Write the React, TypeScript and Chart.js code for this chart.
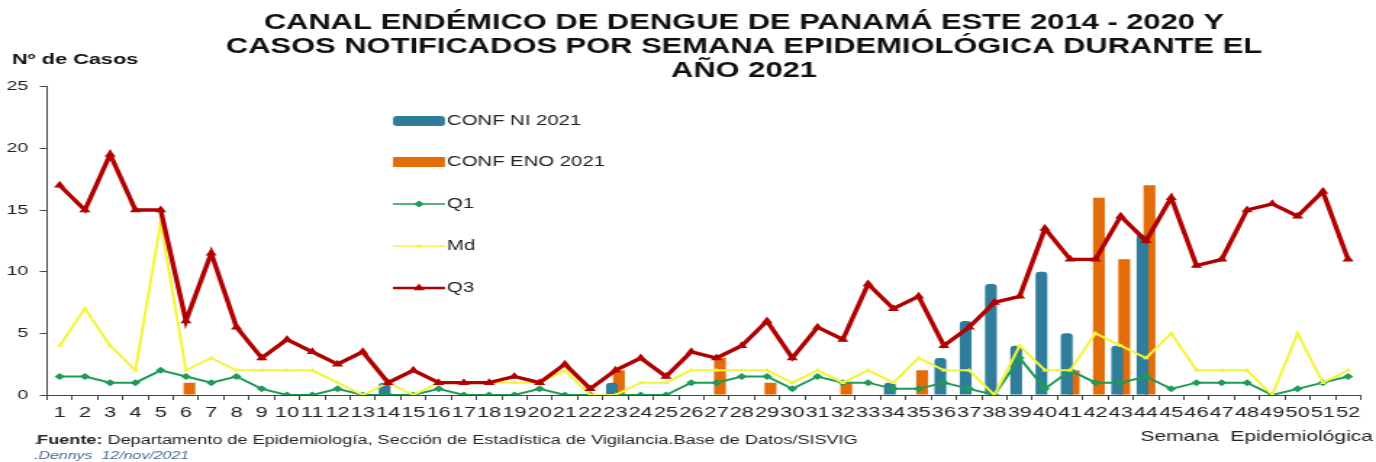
import React, { useEffect, useRef } from "react";
import { Chart, registerables } from "chart.js";

Chart.register(...registerables);

const weeks = ["1","2","3","4","5","6","7","8","9","10","11","12","13","14","15","16","17","18","19","20","21","22","23","24","25","26","27","28","29","30","31","32","33","34","35","36","37","38","39","40","41","42","43","44","45","46","47","48","49","50","51","52"];

const confNI: (number | null)[] = [null,null,null,null,null,null,null,null,null,null,null,null,null,1,null,null,null,null,null,null,null,null,1,null,null,null,null,null,null,null,null,null,null,1,null,3,6,9,4,10,5,null,4,13,null,null,null,null,null,null,null,null];
const confENO: (number | null)[] = [null,null,null,null,null,1,null,null,null,null,null,null,null,null,null,null,null,null,null,null,null,null,2,null,null,null,3,null,1,null,null,1,null,null,2,null,null,null,null,null,2,16,11,17,null,null,null,null,null,null,null,null];
const q1 = [1.5,1.5,1,1,2,1.5,1,1.5,0.5,0,0,0.5,0,0,0,0.5,0,0,0,0.5,0,0,0,0,0,1,1,1.5,1.5,0.5,1.5,1,1,0.5,0.5,1,0.5,0,3,0.5,2,1,1,1.5,0.5,1,1,1,0,0.5,1,1.5];
const md = [4,7,4,2,14,2,3,2,2,2,2,1,0,1,0,1,1,1,1,1,2,0,0,1,1,2,2,2,2,1,2,1,2,1,3,2,2,0,4,2,2,5,4,3,5,2,2,2,0,5,1,2];
const q3 = [17,15,19.5,15,15,6,11.5,5.5,3,4.5,3.5,2.5,3.5,1,2,1,1,1,1.5,1,2.5,0.5,2,3,1.5,3.5,3,4,6,3,5.5,4.5,9,7,8,4,5.5,7.5,8,13.5,11,11,14.5,12.5,16,10.5,11,15,15.5,14.5,16.5,11];
const yTicks = [0, 5, 10, 15, 20, 25];

const titleLines = [
  "CANAL ENDÉMICO DE DENGUE DE PANAMÁ ESTE 2014 - 2020 Y",
  "CASOS NOTIFICADOS POR SEMANA EPIDEMIOLÓGICA DURANTE EL",
  "AÑO 2021",
];
const legendLabels = ["CONF NI 2021", "CONF ENO 2021", "Q1", "Md", "Q3"];

const COL_NI = "#2F7D9A";
const COL_ENO = "#E36C0A";
const COL_Q1 = "#1E9B57";
const COL_MD = "#F4F43A";
const COL_Q3 = "#B00000";

const CSS_W = 1376;
const CSS_H = 462;
const CW = 949;
const S = CSS_W / CW;
const cx = (v: number) => v / S;
const FONT = '"Liberation Sans", Arial, sans-serif';

function tri(ctx: CanvasRenderingContext2D, x: number, y: number, r: number) {
  ctx.beginPath();
  ctx.moveTo(x, y - r);
  ctx.lineTo(x + r * 0.866, y + r * 0.5);
  ctx.lineTo(x - r * 0.866, y + r * 0.5);
  ctx.closePath();
  ctx.fill();
}
function diamond(ctx: CanvasRenderingContext2D, x: number, y: number, r: number) {
  ctx.beginPath();
  ctx.moveTo(x, y - r);
  ctx.lineTo(x + r, y);
  ctx.lineTo(x, y + r);
  ctx.lineTo(x - r, y);
  ctx.closePath();
  ctx.fill();
}

const decor = {
  id: "decor",
  afterDraw(chart: any) {
    const ctx: CanvasRenderingContext2D = chart.ctx;
    ctx.save();
    // title
    ctx.fillStyle = "#111";
    ctx.textAlign = "center";
    ctx.textBaseline = "middle";
    ctx.font = `bold 21.3px ${FONT}`;
    const ty = [23, 47.5, 71];
    titleLines.forEach((t, i) => ctx.fillText(t, cx(744), ty[i]));
    // y title
    ctx.textAlign = "left";
    ctx.font = `bold 15px ${FONT}`;
    ctx.fillText("Nº de Casos", cx(12), 60);
    // x title
    ctx.textAlign = "right";
    ctx.font = `14.5px ${FONT}`;
    ctx.fillStyle = "#222";
    ctx.fillText("Semana  Epidemiológica", cx(1373), 437);
    // footer
    ctx.textAlign = "left";
    ctx.font = `12.5px ${FONT}`;
    ctx.fillText(".", cx(34), 441);
    ctx.font = `bold 12.5px ${FONT}`;
    let x = cx(37);
    ctx.fillText("Fuente:", x, 441);
    x += ctx.measureText("Fuente:").width;
    ctx.font = `12.5px ${FONT}`;
    ctx.fillText(" Departamento de Epidemiología, Sección de Estadística de Vigilancia.Base de Datos/SISVIG", x, 441);
    ctx.font = `italic 11px ${FONT}`;
    ctx.fillStyle = "#4A6A90";
    ctx.fillText(".Dennys  12/nov/2021", cx(34), 456);
    // legend
    const ly = [121, 162, 204, 246, 288];
    const sx0 = cx(393), sx1 = cx(445), mid = (sx0 + sx1) / 2;
    ctx.fillStyle = COL_NI;
    ctx.beginPath();
    (ctx as any).roundRect ? (ctx as any).roundRect(sx0, ly[0] - 5, sx1 - sx0, 10, 3) : ctx.rect(sx0, ly[0] - 5, sx1 - sx0, 10);
    ctx.fill();
    ctx.fillStyle = COL_ENO;
    ctx.fillRect(sx0, ly[1] - 5, sx1 - sx0, 10);
    const lineSw = (y: number, col: string, w: number) => {
      ctx.strokeStyle = col;
      ctx.lineWidth = w;
      ctx.beginPath();
      ctx.moveTo(sx0, y);
      ctx.lineTo(sx1, y);
      ctx.stroke();
      ctx.fillStyle = col;
    };
    lineSw(ly[2], COL_Q1, 1.6);
    diamond(ctx, mid, ly[2], 3.5);
    lineSw(ly[3], COL_MD, 1.6);
    tri(ctx, mid, ly[3], 2.5);
    lineSw(ly[4], COL_Q3, 2.6);
    tri(ctx, mid, ly[4], 4.5);
    ctx.fillStyle = "#222";
    ctx.font = `14px ${FONT}`;
    ctx.textAlign = "left";
    legendLabels.forEach((t, i) => ctx.fillText(t, cx(447), ly[i]));
    ctx.restore();
  },
};

export default function App() {
  const ref = useRef<HTMLCanvasElement | null>(null);
  useEffect(() => {
    document.body.style.margin = "0";
    const canvas = ref.current!;
    const chart = new Chart(canvas, {
      type: "bar",
      data: {
        labels: weeks,
        datasets: [
          { type: "line", label: "Q3", data: q3, order: 0, borderColor: COL_Q3, backgroundColor: COL_Q3, borderWidth: 3.4, pointStyle: "triangle", pointRadius: 4.5, pointBorderWidth: 0, tension: 0 } as any,
          { type: "line", label: "Md", data: md, order: 1, borderColor: COL_MD, backgroundColor: COL_MD, borderWidth: 2, pointStyle: "triangle", pointRadius: 2.5, pointBorderWidth: 0, tension: 0 } as any,
          { type: "line", label: "Q1", data: q1, order: 2, borderColor: COL_Q1, backgroundColor: COL_Q1, borderWidth: 2, pointStyle: "rectRot", pointRadius: 3.5, pointBorderWidth: 0, tension: 0 } as any,
          { type: "bar", label: "CONF NI 2021", data: confNI, order: 3, backgroundColor: COL_NI, borderRadius: { topLeft: 3, topRight: 3, bottomLeft: 0, bottomRight: 0 }, borderSkipped: "start", categoryPercentage: 0.55, barPercentage: 1.7 } as any,
          { type: "bar", label: "CONF ENO 2021", data: confENO, order: 4, backgroundColor: COL_ENO, categoryPercentage: 0.55, barPercentage: 1.7 } as any,
        ],
      },
      options: {
        responsive: false,
        animation: false,
        devicePixelRatio: 1,
        layout: { padding: { top: 86.7, left: 0, right: CW - cx(1360.7), bottom: 37 } },
        plugins: { legend: { display: false }, title: { display: false }, tooltip: { enabled: false } },
        scales: {
          x: {
            type: "category",
            offset: true,
            grid: { offset: true, drawOnChartArea: false, drawTicks: true, tickLength: 5, tickColor: "#444" },
            border: { display: true, color: "#444", width: 1 },
            ticks: { autoSkip: false, maxRotation: 0, minRotation: 0, padding: 4, color: "#222", font: { family: FONT, size: 15 } },
            afterFit: (s: any) => { s.height = 30; },
          },
          y: {
            min: 0,
            max: 25,
            grid: { drawOnChartArea: false, drawTicks: true, tickLength: 5, tickColor: "#444" },
            border: { display: true, color: "#444", width: 1 },
            ticks: { padding: 8, color: "#222", font: { family: FONT, size: 13.5 } },
            afterBuildTicks: (s: any) => { s.ticks = yTicks.map((v) => ({ value: v })); },
            afterFit: (s: any) => { s.width = cx(47); },
          },
        },
      } as any,
      plugins: [decor],
    });
    return () => chart.destroy();
  }, []);
  return (
    <canvas
      ref={ref}
      width={CW}
      height={CSS_H}
      style={{ width: CSS_W + "px", height: CSS_H + "px", display: "block" }}
    />
  );
}
